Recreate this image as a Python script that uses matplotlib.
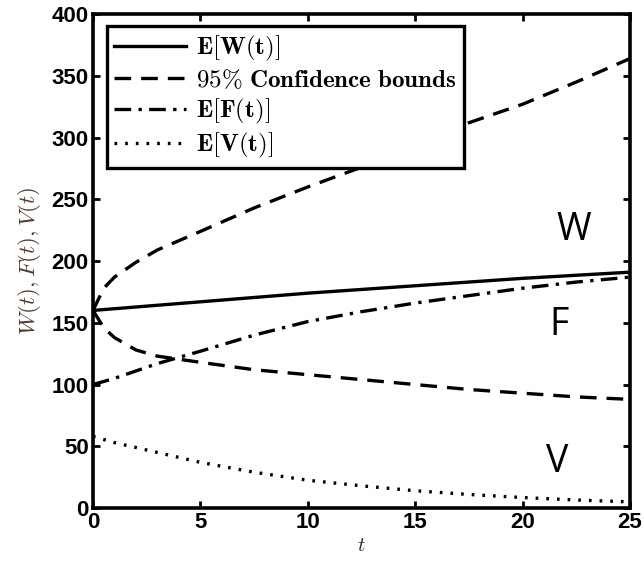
import matplotlib.pyplot as plt
import numpy as np

plt.rcParams['mathtext.fontset'] = 'cm'

# Expected values and confidence bounds sampled along t
t_pts = [0, 0.5, 1, 2, 3, 5, 7.5, 10, 12.5, 15, 17.5, 20, 22.5, 25]
w_mean = [160, 160.7, 161.4, 162.8, 164.2, 167, 170.5, 174, 177, 180, 183, 186, 188.5, 191]
upper = [160, 178, 187, 199, 209, 224, 243, 260, 276, 291, 312, 327, 345, 364]
lower = [160, 146, 138, 128, 123, 118, 112, 108, 104, 100, 96, 93, 90, 88]
f_mean = [100, 102.5, 105, 111, 117, 127, 140, 151, 159, 166, 172, 178, 183, 187]
v_mean = [58, 55.5, 53, 49, 45, 37, 29, 22.5, 18, 14, 11, 8.5, 6.5, 5]

tag_names = ['W', 'F', 'V']
tag_pos = [(22.4, 225), (21.7, 148), (21.6, 37)]

fig = plt.figure(figsize=(6.44, 5.62), dpi=100)
ax = fig.add_axes([0.1444, 0.096, 0.834, 0.879])

lw = 2.4
ax.plot(t_pts, w_mean, color='black', lw=lw, label=r'$\mathbf{E[W(t)]}$')
ax.plot(t_pts, upper, color='black', lw=lw, dashes=(5, 3),
        label=r'$\mathbf{95\%\ Confidence\ bounds}$')
ax.plot(t_pts, lower, color='black', lw=lw, dashes=(5, 3))
ax.plot(t_pts, f_mean, color='black', lw=lw, dashes=(5, 2.2, 1, 2.2),
        label=r'$\mathbf{E[F(t)]}$')
ax.plot(t_pts, v_mean, color='black', lw=lw, dashes=(0.8, 2.4),
        label=r'$\mathbf{E[V(t)]}$')

ax.set_xlim(0, 25)
ax.set_ylim(0, 400)
ax.set_xticks(np.arange(0, 26, 5))
ax.set_yticks(np.arange(0, 401, 50))
ax.tick_params(direction='in', length=5, width=2, top=True, right=True,
               labelsize=16, pad=3)
for lab in ax.get_xticklabels() + ax.get_yticklabels():
    lab.set_fontfamily('Liberation Sans')
    lab.set_fontweight('bold')
for sp in ax.spines.values():
    sp.set_linewidth(2.6)

ax.set_xlabel(r'$t$', fontsize=15, labelpad=1, color='#2a2a3a')
ax.set_ylabel(r'$W(t),F(t),V(t)$', fontsize=16.5, labelpad=6, color='#4e3c30')

leg = ax.legend(loc='upper left', bbox_to_anchor=(0.026, 0.975), fontsize=18,
                frameon=True, fancybox=False, edgecolor='black', framealpha=1,
                handlelength=2.85, labelspacing=0.2, borderpad=0.3,
                handletextpad=0.4, borderaxespad=0)
leg.get_frame().set_linewidth(2.4)

for name, (x, y) in zip(tag_names, tag_pos):
    ax.text(x, y, name, fontsize=27, family='Open Sans', ha='center',
            va='center', color='black')

fig.savefig('out.png', dpi=100)
